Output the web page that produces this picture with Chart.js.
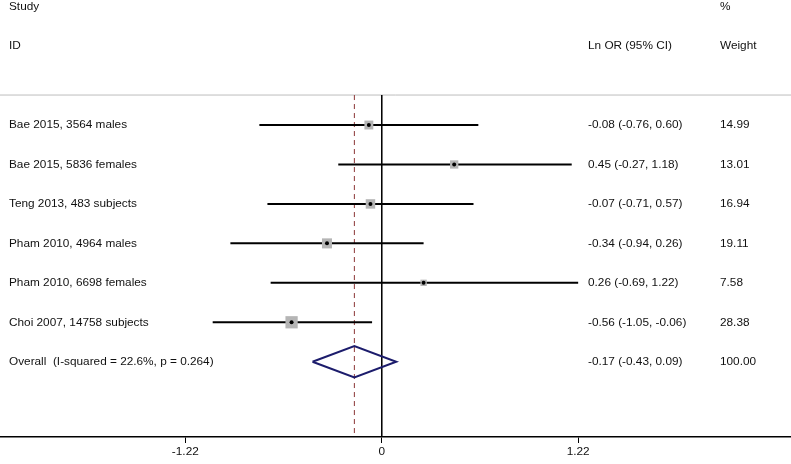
<!DOCTYPE html>
<html>
<head>
<meta charset="utf-8">
<script src="https://cdn.jsdelivr.net/npm/chart.js@4.4.0/dist/chart.umd.min.js"></script>
<style>
  html, body { margin: 0; padding: 0; background: #fff; }
  #wrap { width: 791px; height: 464px; }
</style>
</head>
<body>
<div id="wrap"><canvas id="forest" width="791" height="464"></canvas></div>
<script>
// study data (Ln OR, 95% CI, % weight)
var studies = ["Bae 2015, 3564 males", "Bae 2015, 5836 females", "Teng 2013, 483 subjects",
  "Pham 2010, 4964 males", "Pham 2010, 6698 females", "Choi 2007, 14758 subjects"];
var estimates = [-0.08, 0.45, -0.07, -0.34, 0.26, -0.56];
var lower = [-0.76, -0.27, -0.71, -0.94, -0.69, -1.05];
var upper = [0.60, 1.18, 0.57, 0.26, 1.22, -0.06];
var weights = [14.99, 13.01, 16.94, 19.11, 7.58, 28.38];

var overallLabel = "Overall  (I-squared = 22.6%, p = 0.264)";
var overallEst = -0.17;
var overallLow = -0.43;
var overallHigh = 0.09;
var overallWeight = 100.00;

var xTicks = [-1.22, 0, 1.22];

// scale ranges (row index on y, top row = 0)
var X_MIN = -2.371, X_MAX = 2.542;
var Y_MIN = -3.169, Y_MAX = 7.908;
var SEP_ROW = -0.76;
var overallRow = studies.length;

var FONT = "'Liberation Sans', Arial, sans-serif";

function fmt(v) { return v.toFixed(2); }

var datasets = [];

// separator under header
datasets.push({
  order: 9,
  data: [{ x: X_MIN, y: SEP_ROW }, { x: X_MAX, y: SEP_ROW }],
  showLine: true, borderColor: "#bdbdbd", borderWidth: 1, pointRadius: 0
});

// line of no effect
datasets.push({
  order: 8,
  data: [{ x: 0, y: SEP_ROW }, { x: 0, y: Y_MAX }],
  showLine: true, borderColor: "#000", borderWidth: 1, pointRadius: 0
});

// overall estimate dashed line
datasets.push({
  order: 7,
  data: [{ x: overallEst, y: SEP_ROW }, { x: overallEst, y: Y_MAX }],
  showLine: true, borderColor: "#8b3535", borderWidth: 1, borderDash: [5, 4], pointRadius: 0
});

// confidence intervals
studies.forEach(function (s, i) {
  datasets.push({
    order: 5,
    data: [{ x: lower[i], y: i }, { x: upper[i], y: i }],
    showLine: true, borderColor: "#000", borderWidth: 2, pointRadius: 0
  });
});

// weight boxes
datasets.push({
  order: 2,
  data: estimates.map(function (e, i) { return { x: e, y: i }; }),
  showLine: false,
  pointStyle: "rect",
  pointRadius: weights.map(function (w) { return 2.3 * Math.sqrt(w) / Math.SQRT2; }),
  backgroundColor: "#b5b5b5",
  borderWidth: 0
});

// point estimates
datasets.push({
  order: 1,
  data: estimates.map(function (e, i) { return { x: e, y: i }; }),
  showLine: false, pointRadius: 2, backgroundColor: "#000", borderWidth: 0
});

// overall diamond
datasets.push({
  order: 3,
  data: [
    { x: overallLow, y: overallRow },
    { x: overallEst, y: overallRow - 0.4 },
    { x: overallHigh, y: overallRow },
    { x: overallEst, y: overallRow + 0.4 },
    { x: overallLow, y: overallRow }
  ],
  showLine: true, borderColor: "#1c1c6c", borderWidth: 2, pointRadius: 0, tension: 0
});

var textPlugin = {
  id: "forestText",
  afterDraw: function (chart) {
    var ctx = chart.ctx;
    var y = chart.scales.y;
    ctx.save();
    ctx.font = "11.8px " + FONT;
    ctx.fillStyle = "#111";
    ctx.textBaseline = "middle";
    ctx.textAlign = "left";

    ctx.fillText("Study", 9, y.getPixelForValue(-3));
    ctx.fillText("ID", 9, y.getPixelForValue(-2));
    ctx.fillText("%", 720, y.getPixelForValue(-3));
    ctx.fillText("Ln OR (95% CI)", 588, y.getPixelForValue(-2));
    ctx.fillText("Weight", 720, y.getPixelForValue(-2));

    studies.forEach(function (s, i) {
      var py = y.getPixelForValue(i);
      ctx.fillText(s, 9, py);
      ctx.fillText(fmt(estimates[i]) + " (" + fmt(lower[i]) + ", " + fmt(upper[i]) + ")", 588, py);
      ctx.fillText(fmt(weights[i]), 720, py);
    });

    var oy = y.getPixelForValue(overallRow);
    ctx.fillText(overallLabel, 9, oy);
    ctx.fillText(fmt(overallEst) + " (" + fmt(overallLow) + ", " + fmt(overallHigh) + ")", 588, oy);
    ctx.fillText(fmt(overallWeight), 720, oy);
    ctx.restore();
  }
};

window.addEventListener("DOMContentLoaded", function () {
  var ctx = document.getElementById("forest");
  new Chart(ctx, {
    type: "scatter",
    data: { datasets: datasets },
    options: {
      responsive: false,
      animation: false,
      layout: { padding: 0, autoPadding: false },
      plugins: { legend: { display: false }, tooltip: { enabled: false } },
      scales: {
        x: {
          type: "linear",
          min: X_MIN,
          max: X_MAX,
          afterBuildTicks: function (scale) {
            scale.ticks = xTicks.map(function (v) { return { value: v }; });
          },
          afterFit: function (scale) { scale.height = 27; },
          ticks: {
            color: "#111",
            padding: 2,
            maxRotation: 0,
            autoSkip: false,
            font: { family: FONT, size: 11.8 },
            callback: function (v) { return v === 0 ? "0" : v.toFixed(2); }
          },
          grid: { drawOnChartArea: false, drawTicks: true, tickLength: 6, color: "#000", lineWidth: 1 },
          border: { display: true, color: "#000", width: 1.5 }
        },
        y: {
          type: "linear",
          display: false,
          reverse: true,
          min: Y_MIN,
          max: Y_MAX
        }
      }
    },
    plugins: [textPlugin]
  });
});
</script>
</body>
</html>
